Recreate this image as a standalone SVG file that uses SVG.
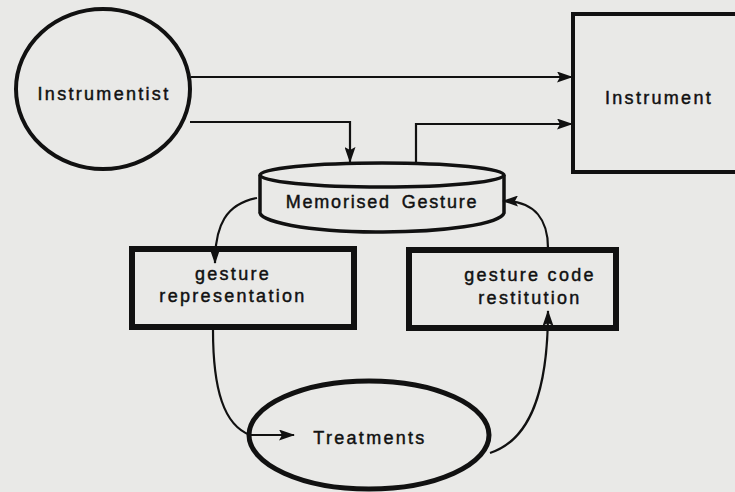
<svg xmlns="http://www.w3.org/2000/svg" width="735" height="492" viewBox="0 0 735 492">
<style>
.bg{fill:#e9e9e7}
.shape{fill:none;stroke:#111;}
.lbl{font-family:"Liberation Sans",Arial,sans-serif;font-size:18px;fill:#111;stroke:#111;stroke-width:0.45px;text-anchor:middle;letter-spacing:2.3px}
.conn{fill:none;stroke:#111;stroke-width:2.2}
</style>
<defs>
<marker id="ah" viewBox="0 0 16 11" refX="15" refY="5.5" markerWidth="16" markerHeight="11" markerUnits="userSpaceOnUse" orient="auto">
<path d="M0,0 L16,5.5 L0,11 L3,5.5 Z" fill="#111"/>
</marker>
</defs>
<rect class="bg" x="0" y="0" width="735" height="492"/>
<g id="instrumentist">
<ellipse class="shape" cx="103" cy="89" rx="87" ry="80" stroke-width="4"/>
<text class="lbl" x="104" y="100">Instrumentist</text>
</g>
<g id="instrument">
<rect class="shape" x="573" y="14" width="200" height="158" stroke-width="4"/>
<text class="lbl" x="659" y="104">Instrument</text>
</g>
<g id="memorised-gesture">
<path class="shape" stroke-width="3.5" d="M260,175 A122,12 0 0 1 504,175 A122,12 0 0 1 260,175 Z"/>
<path class="shape" stroke-width="3.5" d="M260,175 L260,211 A122,20 0 0 0 504,213 L504,175"/>
<text class="lbl" x="382" y="208" style="letter-spacing:1.8px;word-spacing:4px">Memorised Gesture</text>
</g>
<g id="gesture-representation">
<rect class="shape" x="132" y="249" width="222" height="78" stroke-width="6"/>
<text class="lbl" x="233" y="280">gesture</text>
<text class="lbl" x="233" y="302">representation</text>
</g>
<g id="gesture-code-restitution">
<rect class="shape" x="409" y="250" width="207" height="78" stroke-width="6"/>
<text class="lbl" x="530" y="281">gesture code</text>
<text class="lbl" x="530" y="304">restitution</text>
</g>
<g id="treatments">
<ellipse class="shape" cx="369" cy="435" rx="120" ry="54" stroke-width="5"/>
<text class="lbl" x="370" y="444">Treatments</text>
</g>
<g id="connectors">
<path class="conn" d="M191,77 L572,77" marker-end="url(#ah)"/>
<path class="conn" d="M190,122 L350,122 L350,162" marker-end="url(#ah)"/>
<path class="conn" d="M416,163 L416,124 L572,124" marker-end="url(#ah)"/>
<path class="conn" d="M257,198 C226,204 215,225 215,263" marker-end="url(#ah)"/>
<path class="conn" d="M213,330 C213,390 224,425 250,435 L294,435" marker-end="url(#ah)"/>
<path class="conn" d="M490,453 C530,440 548,392 548,311" marker-end="url(#ah)"/>
<path class="conn" d="M548,248 C548,221 536,201 503,201" marker-end="url(#ah)"/>
</g>
</svg>
